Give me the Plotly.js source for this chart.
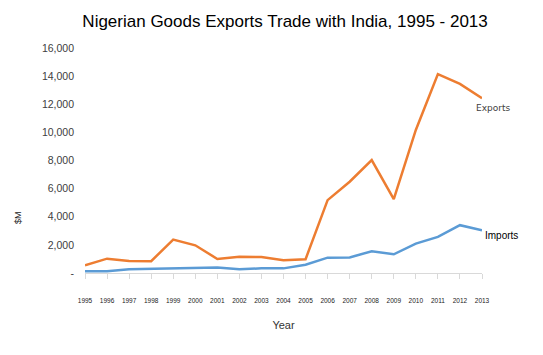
<!DOCTYPE html>
<html><head><meta charset="utf-8">
<script src="https://cdn.plot.ly/plotly-3.0.1.min.js"></script>
<style>html,body{margin:0;padding:0;background:#fff}#c{width:543px;height:355px}</style>
</head><body><div id="c"></div>
<script>
const years = [1995,1996,1997,1998,1999,2000,2001,2002,2003,2004,2005,2006,2007,2008,2009,2010,2011,2012,2013];
const exportsM = [550,1020,860,840,2380,1970,1000,1160,1140,900,975,5180,6490,8030,5250,10170,14140,13450,12430];
const importsM = [120,120,260,285,330,350,400,260,330,330,590,1090,1110,1545,1330,2090,2570,3400,3040];
const yTickVals = [0,2000,4000,6000,8000,10000,12000,14000,16000];
const yTickText = ['-','2,000','4,000','6,000','8,000','10,000','12,000','14,000','16,000'];

const traces = [
  {x: years, y: exportsM, type:'scatter', mode:'lines', name:'Exports', line:{color:'#ED7D31', width:2.5}},
  {x: years, y: importsM, type:'scatter', mode:'lines', name:'Imports', line:{color:'#5B9BD5', width:2.5}}
];
const layout = {
  width:543, height:355,
  margin:{l:85, r:61, t:48, b:82},
  paper_bgcolor:'#fff', plot_bgcolor:'#fff',
  showlegend:false,
  font:{family:'Liberation Sans, Arial, sans-serif', color:'#404040'},
  title:{text:'Nigerian Goods Exports Trade with India, 1995 - 2013', x:0.525, xanchor:'center', y:0.94, yanchor:'middle', font:{size:17, color:'#000'}},
  xaxis:{range:[1995,2013], tickvals:years, ticktext:years.map(String), tickangle:0,
    tickfont:{size:6.5, color:'#222'}, ticklabelstandoff:16, showgrid:false, zeroline:false, showline:true, linecolor:'#d9d9d9', linewidth:1,
    ticks:'outside', ticklen:5, tickcolor:'#d9d9d9', fixedrange:true,
    title:{text:'Year', font:{size:11, color:'#333'}, standoff:18}},
  yaxis:{range:[0,16000], tickvals:yTickVals, ticktext:yTickText, tickfont:{size:10.5, color:'#404040'},
    ticklabelstandoff:10, showgrid:false, zeroline:false, showline:false, ticks:'', ticklen:0},
  annotations:[
    {xref:'paper', yref:'paper', x:-0.169, y:0.249, text:'$M', textangle:-90, showarrow:false, xanchor:'center', yanchor:'middle', font:{size:9, color:'#222'}},
    {x:2013, y:12430, text:'Exports', showarrow:false, xanchor:'left', yanchor:'top', xshift:-8, yshift:-3, font:{size:9, color:'#404040', family:'DejaVu Sans, sans-serif'}},
    {x:2013, y:3040, text:'Imports', showarrow:false, xanchor:'left', yanchor:'middle', xshift:1, yshift:-5, font:{size:10, color:'#000'}}
  ]
};
Plotly.newPlot('c', traces, layout, {displayModeBar:false, staticPlot:true});
</script></body></html>
